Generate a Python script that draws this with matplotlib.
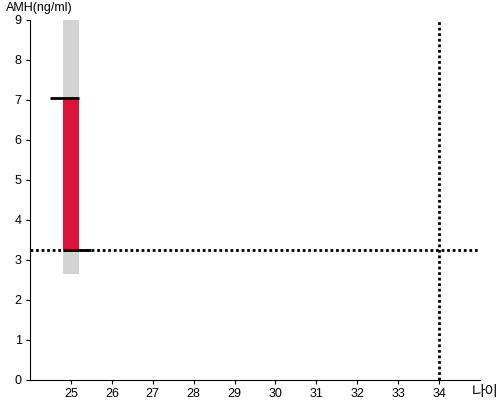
import matplotlib.pyplot as plt

plt.rcParams['font.family'] = ['Liberation Sans', 'Noto Sans CJK KR', 'DejaVu Sans']

# data
age = 25
range_low, range_high = 2.65, 9.0     # gray band
amh_low, amh_high = 3.25, 7.05         # red bar
ref_age = 34
ref_amh = 3.25
x_ticks = list(range(25, 35))
y_ticks = list(range(0, 10))

fig = plt.figure(figsize=(5, 4), dpi=100)
ax = fig.add_axes([0.06, 0.05, 0.90, 0.90])

ax.bar(age, range_high - range_low, bottom=range_low, width=0.4,
       color='#d3d3d3', zorder=1)
ax.bar(age, amh_high - amh_low, bottom=amh_low, width=0.4,
       color='#dc143c', zorder=2)
ax.plot([age - 0.5, age + 0.2], [amh_high, amh_high], color='black', lw=2, zorder=4,
        solid_capstyle='butt')
ax.plot([age - 0.2, age + 0.5], [amh_low, amh_low], color='black', lw=2, zorder=4,
        solid_capstyle='butt')

ax.axhline(ref_amh, color='black', lw=2, linestyle=(0, (1, 1)), zorder=3)
ax.axvline(ref_age, color='black', lw=2, linestyle=(0, (1, 1)), zorder=3)

ax.set_xlim(24, 35)
ax.set_ylim(0, 9)
ax.set_xticks(x_ticks)
ax.set_yticks(y_ticks)
ax.tick_params(labelsize=9, length=3, color='black', pad=3)
for s in ['top', 'right']:
    ax.spines[s].set_visible(False)

fig.text(0.012, 0.979, 'AMH(ng/ml)', fontsize=9, va='center', ha='left')
fig.text(0.944, 0.02, '나이', fontsize=10.5, va='center', ha='left')

fig.savefig('out.png')
